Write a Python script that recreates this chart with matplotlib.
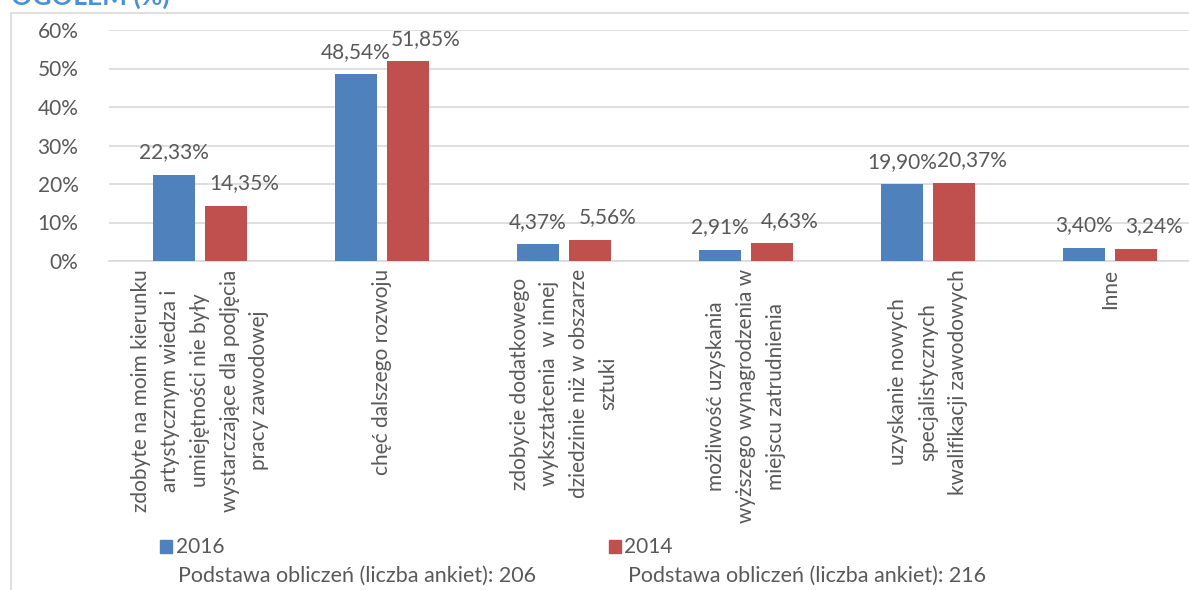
import matplotlib
matplotlib.use('Agg')
import matplotlib.pyplot as plt
from matplotlib.patches import Rectangle
import numpy as np

# data
categories = [
    'zdobyte na moim kierunku\nartystycznym wiedza i\numiejętności nie były\nwystarczające dla podjęcia\npracy zawodowej',
    'chęć dalszego rozwoju',
    'zdobycie dodatkowego\nwykształcenia  w innej\ndziedzinie niż w obszarze\nsztuki',
    'możliwość uzyskania\nwyższego wynagrodzenia w\nmiejscu zatrudnienia',
    'uzyskanie nowych\nspecjalistycznych\nkwalifikacji zawodowych',
    'Inne',
]
values_2016 = [22.33, 48.54, 4.37, 2.91, 19.90, 3.40]
values_2014 = [14.35, 51.85, 5.56, 4.63, 20.37, 3.24]
series_names = ['2016', '2014']
base_notes = ['Podstawa obliczeń (liczba ankiet): 206', 'Podstawa obliczeń (liczba ankiet): 216']
y_ticks = [0, 10, 20, 30, 40, 50, 60]

blue = '#4F81BD'
red = '#C0504D'
txt = '#595959'
plt.rcParams['font.family'] = ['Lato', 'DejaVu Sans']

W, H = 1189, 590
fig = plt.figure(figsize=(W / 100, H / 100), dpi=100)

def fx(px):
    return px / W

def fy(py):
    return 1 - py / H

# outer chart frame
fig.patches.append(Rectangle((fx(11), -0.1), 1.2, fy(13) + 0.1, transform=fig.transFigure,
                             fill=False, edgecolor='#D9D9D9', lw=1.2))

# title cut off at the top
fig.text(fx(170), fy(5), 'OGÓŁEM (%)', ha='right', va='baseline', fontsize=19,
         fontweight='bold', color='#4A90D9')

ax = fig.add_axes([fx(109), fy(261), fx(1201) - fx(109), fy(30) - fy(261)])

x = np.arange(len(categories))
width = 0.23
off = 0.142

rects1 = ax.bar(x - off, values_2016, width, color=blue, zorder=3)
rects2 = ax.bar(x + off, values_2014, width, color=red, zorder=3)

for r, v in zip(rects1, values_2016):
    ax.annotate(f'{v:.2f}%'.replace('.', ','), (r.get_x() + r.get_width() / 2, v),
                xytext=(0, 9), textcoords='offset points', ha='center', va='bottom',
                fontsize=15, color=txt)
for r, v in zip(rects2, values_2014):
    ax.annotate(f'{v:.2f}%'.replace('.', ','), (r.get_x() + r.get_width() / 2, v),
                xytext=(13, 9), textcoords='offset points', ha='center', va='bottom',
                fontsize=15, color=txt)

ax.set_xlim(-0.5, 5.5)
ax.set_ylim(0, 60)
ax.set_yticks(y_ticks)
ax.set_yticklabels([f'{t}%' for t in y_ticks], fontsize=15, color=txt)
ax.tick_params(axis='y', length=0, pad=22)
ax.set_xticks([])
ax.grid(axis='y', color='#D9D9D9', lw=1.2, zorder=0)
for s in ['left', 'right', 'top']:
    ax.spines[s].set_visible(False)
ax.spines['bottom'].set_color('#D9D9D9')
ax.spines['bottom'].set_linewidth(1.2)

for i, c in enumerate(categories):
    ax.text(i, -0.035, c, transform=ax.get_xaxis_transform(), rotation=90,
            ha='center', va='top', multialignment='center', fontsize=15,
            color=txt, linespacing=1.6)

# legend and base notes
fig.patches.append(Rectangle((fx(160), fy(553)), fx(12), fy(540) - fy(553),
                             transform=fig.transFigure, color=blue))
fig.text(fx(176), fy(547), series_names[0], va='center', fontsize=15, color=txt)
fig.patches.append(Rectangle((fx(609), fy(553)), fx(12), fy(540) - fy(553),
                             transform=fig.transFigure, color=red))
fig.text(fx(624), fy(547), series_names[1], va='center', fontsize=15, color=txt)
fig.text(fx(178), fy(576), base_notes[0], va='center', fontsize=15.5, color=txt)
fig.text(fx(628), fy(576), base_notes[1], va='center', fontsize=15.5, color=txt)

fig.savefig('out.png', dpi=100)
